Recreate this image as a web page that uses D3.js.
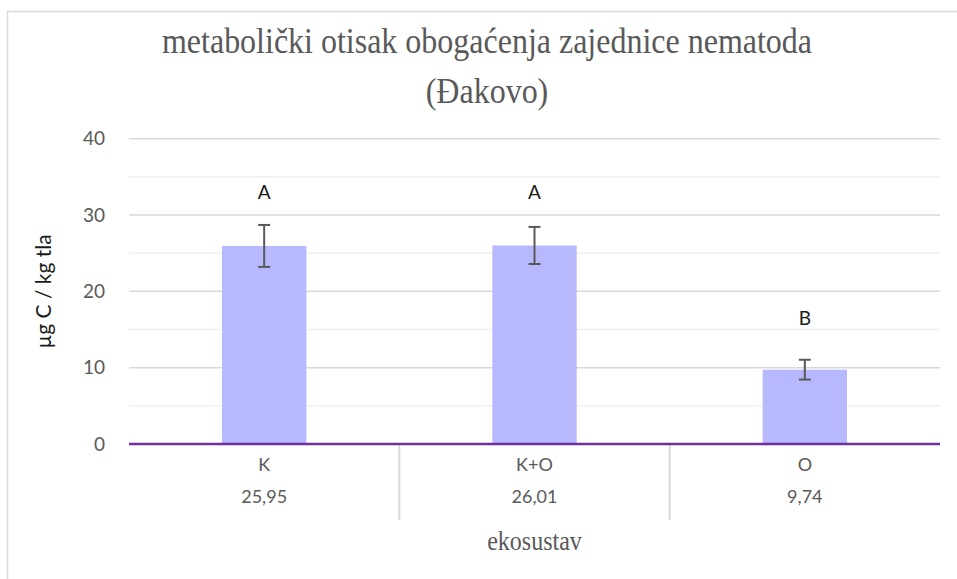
<!DOCTYPE html>
<html>
<head>
<meta charset="utf-8">
<script src="https://cdn.jsdelivr.net/npm/d3@7"></script>
<style>
  html, body { margin: 0; padding: 0; background: #fff; }
  svg { display: block; }
</style>
</head>
<body>
<svg id="chart" width="957" height="579"></svg>
<script>
// Enrichment footprint of the nematode community, by ecosystem
const categories = ["K", "K+O", "O"];
const means = [25.95, 26.01, 9.74];
const errors = [2.75, 2.43, 1.3];
const letters = ["A", "A", "B"];
const letterLevels = [33.0, 33.0, 16.5];
const majorTicks = [0, 10, 20, 30, 40];
const minorTicks = [5, 15, 25, 35];

const titleLines = ["metabolički otisak obogaćenja zajednice nematoda", "(Đakovo)"];
const yTitle = "µg C / kg tla";
const xTitle = "ekosustav";

const W = 957, H = 579;
const plot = { left: 129, right: 940, top: 138.7, bottom: 444 };
const sans = "Lato, 'Open Sans', sans-serif";
const serif = "'Liberation Serif', 'DejaVu Serif', serif";
const textColor = "#595959";

const svg = d3.select("#chart");

// chart frame
svg.append("rect")
  .attr("x", 7.5).attr("y", 11.5)
  .attr("width", W).attr("height", H)
  .attr("fill", "#fff").attr("stroke", "#d9d9d9").attr("stroke-width", 1.5);

const x = d3.scaleBand().domain(categories).range([plot.left, plot.right]).paddingInner(0).paddingOuter(0);
const y = d3.scaleLinear().domain([0, 40]).range([plot.bottom, plot.top]);
const barWidth = x.bandwidth() * 0.312;

// title (serif, slightly condensed look)
const titleG = svg.append("g").attr("transform", "translate(487,0) scale(1,1.13)");
titleG.selectAll("text").data(titleLines).join("text")
  .attr("x", 0)
  .attr("y", (d, i) => (i === 0 ? 53 : 103) / 1.13)
  .attr("text-anchor", "middle")
  .attr("font-family", serif).attr("font-size", 32).attr("fill", textColor)
  .text(d => d);

// minor gridlines
svg.append("g").selectAll("line").data(minorTicks).join("line")
  .attr("x1", plot.left).attr("x2", plot.right)
  .attr("y1", d => y(d)).attr("y2", d => y(d))
  .attr("stroke", "#f0f0f0").attr("stroke-width", 1.5);

// major gridlines
svg.append("g").selectAll("line").data(majorTicks.filter(d => d > 0)).join("line")
  .attr("x1", plot.left).attr("x2", plot.right)
  .attr("y1", d => y(d)).attr("y2", d => y(d))
  .attr("stroke", "#d9d9d9").attr("stroke-width", 1.5);

// y axis labels
const yAxis = d3.axisLeft(y).tickValues(majorTicks).tickSize(0).tickPadding(24).tickFormat(d3.format("d"));
const gy = svg.append("g").attr("transform", `translate(${plot.left},0)`).call(yAxis);
gy.select(".domain").remove();
gy.selectAll("text").attr("font-family", sans).attr("font-size", 19).attr("fill", textColor);

// y axis title
svg.append("text")
  .attr("transform", `translate(51,${(plot.top + plot.bottom) / 2}) rotate(-90)`)
  .attr("text-anchor", "middle")
  .attr("font-family", sans).attr("font-size", 21).attr("fill", "#1a1a1a")
  .text(yTitle);

// bars
svg.append("g").selectAll("rect").data(categories).join("rect")
  .attr("x", d => x(d) + (x.bandwidth() - barWidth) / 2)
  .attr("width", barWidth)
  .attr("y", (d, i) => y(means[i]))
  .attr("height", (d, i) => y(0) - y(means[i]))
  .attr("fill", "#b7b8fd");

// error bars
const eg = svg.append("g").attr("stroke", "#595959").attr("stroke-width", 2).attr("fill", "none");
categories.forEach((c, i) => {
  const cx = x(c) + x.bandwidth() / 2;
  const hi = y(means[i] + errors[i]), lo = y(means[i] - errors[i]);
  eg.append("line").attr("x1", cx).attr("x2", cx).attr("y1", hi).attr("y2", lo);
  eg.append("line").attr("x1", cx - 6).attr("x2", cx + 6).attr("y1", hi).attr("y2", hi);
  eg.append("line").attr("x1", cx - 6).attr("x2", cx + 6).attr("y1", lo).attr("y2", lo);
});

// significance letters
svg.append("g").selectAll("text").data(categories).join("text")
  .attr("x", d => x(d) + x.bandwidth() / 2)
  .attr("y", (d, i) => y(letterLevels[i]))
  .attr("dy", "0.35em")
  .attr("text-anchor", "middle")
  .attr("font-family", sans).attr("font-size", 19).attr("fill", "#1a1a1a")
  .text((d, i) => letters[i]);

// data table separators below the axis
svg.append("g").selectAll("line").data(categories.slice(1)).join("line")
  .attr("x1", d => x(d)).attr("x2", d => x(d))
  .attr("y1", plot.bottom + 1).attr("y2", 520)
  .attr("stroke", "#d9d9d9").attr("stroke-width", 2);

// zero axis line
svg.append("line")
  .attr("x1", plot.left).attr("x2", plot.right)
  .attr("y1", y(0)).attr("y2", y(0))
  .attr("stroke", "#7030a0").attr("stroke-width", 2.5);

// category labels and values
const fmt = d3.formatLocale({ decimal: ",", thousands: ".", grouping: [3], currency: ["", ""] }).format(".2f");
const xAxis = d3.axisBottom(x).tickSize(0).tickPadding(14);
const gx = svg.append("g").attr("transform", `translate(0,${plot.bottom})`).call(xAxis);
gx.select(".domain").remove();
gx.selectAll("text").attr("font-family", sans).attr("font-size", 18).attr("fill", textColor);

svg.append("g").selectAll("text").data(categories).join("text")
  .attr("x", d => x(d) + x.bandwidth() / 2)
  .attr("y", 503)
  .attr("text-anchor", "middle")
  .attr("font-family", sans).attr("font-size", 18).attr("fill", textColor)
  .text((d, i) => fmt(means[i]));

// x axis title
const xtG = svg.append("g").attr("transform", `translate(${(plot.left + plot.right) / 2},0) scale(1,1.13)`);
xtG.append("text")
  .attr("x", 0).attr("y", 550 / 1.13)
  .attr("text-anchor", "middle")
  .attr("font-family", serif).attr("font-size", 24).attr("fill", textColor)
  .text(xTitle);
</script>
</body>
</html>
